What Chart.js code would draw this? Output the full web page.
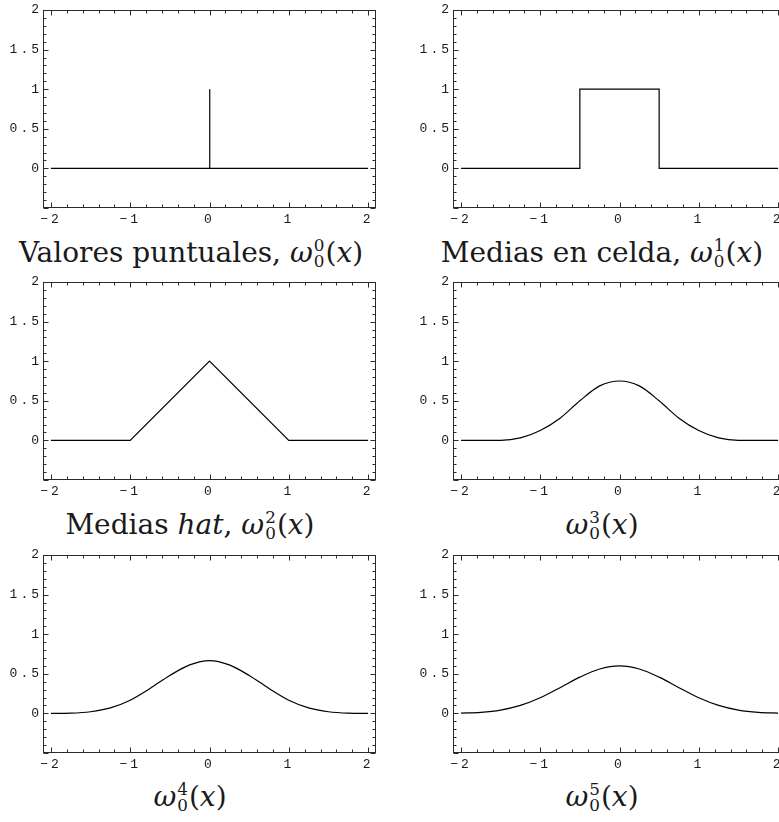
<!DOCTYPE html>
<html lang="es">
<head>
<meta charset="UTF-8" />
<title>Núcleos de reconstrucción ω0</title>
<script src="https://cdn.jsdelivr.net/npm/chart.js"></script>
<style>
  html, body { margin: 0; padding: 0; background: #fff; overflow: hidden; width: 779px; height: 822px; }
  .panel { position: absolute; }
  .ttl {
    position: absolute; transform: translateX(-50%); white-space: nowrap;
    font-family: 'DejaVu Serif', serif; font-size: 28px; line-height: 28px; color: #1a1a1a;
  }
  .ss { display: inline-block; vertical-align: -0.32em; font-size: 0.6em; line-height: 0.95em; margin: 0 1px; }
  .ss span { display: block; }
</style>
</head>
<body>
<canvas id="c0" class="panel" width="380" height="230" style="left:0px;top:0px"></canvas>
<canvas id="c1" class="panel" width="380" height="230" style="left:410px;top:0px"></canvas>
<canvas id="c2" class="panel" width="380" height="230" style="left:0px;top:272px"></canvas>
<canvas id="c3" class="panel" width="380" height="230" style="left:410px;top:272px"></canvas>
<canvas id="c4" class="panel" width="380" height="230" style="left:0px;top:545px"></canvas>
<canvas id="c5" class="panel" width="380" height="230" style="left:410px;top:545px"></canvas>

<div class="ttl" style="left:191px;top:238px">Valores puntuales, <i>ω</i><span class="ss"><span>0</span><span>0</span></span>(<i>x</i>)</div>
<div class="ttl" style="left:602px;top:238px">Medias en celda, <i>ω</i><span class="ss"><span>1</span><span>0</span></span>(<i>x</i>)</div>
<div class="ttl" style="left:190px;top:510px">Medias <i>hat</i>, <i>ω</i><span class="ss"><span>2</span><span>0</span></span>(<i>x</i>)</div>
<div class="ttl" style="left:602px;top:510px"><i>ω</i><span class="ss"><span>3</span><span>0</span></span>(<i>x</i>)</div>
<div class="ttl" style="left:190px;top:782px"><i>ω</i><span class="ss"><span>4</span><span>0</span></span>(<i>x</i>)</div>
<div class="ttl" style="left:602px;top:782px"><i>ω</i><span class="ss"><span>5</span><span>0</span></span>(<i>x</i>)</div>

<script>
// tick labels
const xTickVals = [-2, -1, 0, 1, 2];
const xTickText = ['\u22122', '\u22121', '0', '1', '2'];
const yTickVals = [0, 0.5, 1, 1.5, 2];
const yTickText = ['0', '0.5', '1', '1.5', '2'];

// omega^0: point values (spike at 0)
const spikeX = [-2, 0, 0, 0.006, 2];
const spikeY = [0, 0, 1, 0, 0];

// omega^1: cell averages (box)
const boxX = [-2, -0.5, -0.5, 0.5, 0.5, 2];
const boxY = [0, 0, 1, 1, 0, 0];

// omega^2: hat averages
const hatX = [-2, -1, 0, 1, 2];
const hatY = [0, 0, 1, 0, 0];

// smooth kernels, read every 0.25
const smoothX = [-2, -1.75, -1.5, -1.25, -1, -0.75, -0.5, -0.25, 0, 0.25, 0.5, 0.75, 1, 1.25, 1.5, 1.75, 2];
const w3Y = [0, 0, 0, 0.031, 0.125, 0.281, 0.5, 0.688, 0.75, 0.688, 0.5, 0.281, 0.125, 0.031, 0, 0, 0];
const w4Y = [0, 0.003, 0.021, 0.070, 0.167, 0.315, 0.479, 0.612, 0.667, 0.612, 0.479, 0.315, 0.167, 0.070, 0.021, 0.003, 0];
const w5Y = [0.003, 0.013, 0.042, 0.101, 0.198, 0.325, 0.458, 0.561, 0.599, 0.561, 0.458, 0.325, 0.198, 0.101, 0.042, 0.013, 0.003];

function pts(xs, ys) {
  return xs.map((x, i) => ({ x: x, y: ys[i] }));
}

// frame with inward ticks on all four sides, like the original plot
const framePlugin = {
  id: 'frame',
  beforeDraw(chart) {
    chart.ctx.letterSpacing = '3px';
  },
  afterDraw(chart) {
    const ctx = chart.ctx;
    const a = chart.chartArea;
    const x = chart.scales.x, y = chart.scales.y;
    ctx.save();
    ctx.strokeStyle = '#2a2a2a';
    ctx.lineWidth = 1;
    const L = Math.round(a.left) + 0.5, R = Math.round(a.right) - 0.5;
    const T = Math.round(a.top) + 0.5, B = Math.round(a.bottom) - 0.5;
    ctx.strokeRect(L, T, R - L, B - T);
    ctx.beginPath();
    for (let i = -10; i <= 10; i++) {
      const px = Math.round(x.getPixelForValue(i / 5)) + 0.5;
      const len = i % 5 === 0 ? 5 : 3;
      ctx.moveTo(px, B); ctx.lineTo(px, B - len);
      ctx.moveTo(px, T); ctx.lineTo(px, T + len);
    }
    for (let j = -5; j <= 20; j++) {
      const py = Math.round(y.getPixelForValue(j / 10)) + 0.5;
      const len = j % 5 === 0 ? 5 : 3;
      ctx.moveTo(L, py); ctx.lineTo(L + len, py);
      ctx.moveTo(R, py); ctx.lineTo(R - len, py);
    }
    ctx.stroke();
    ctx.restore();
  }
};

function makePanel(id, data, smooth) {
  new Chart(document.getElementById(id), {
    type: 'line',
    data: {
      datasets: [{
        data: data,
        borderColor: '#000',
        borderWidth: 1.2,
        pointRadius: 0,
        fill: false,
        tension: 0,
        cubicInterpolationMode: smooth ? 'monotone' : 'default'
      }]
    },
    options: {
      responsive: false,
      animation: false,
      layout: { padding: { top: 10, right: 4, left: 0, bottom: 0 } },
      plugins: { legend: { display: false }, tooltip: { enabled: false } },
      scales: {
        x: {
          type: 'linear', min: -2.1, max: 2.1,
          grid: { display: false, drawTicks: false },
          border: { display: false },
          afterBuildTicks: s => { s.ticks = xTickVals.map(v => ({ value: v })); },
          afterFit: s => { s.height = 22; },
          ticks: {
            padding: 4, maxRotation: 0, autoSkip: false,
            color: '#1a1a1a',
            font: { family: "'Liberation Mono', monospace", size: 13 },
            callback: v => xTickText[xTickVals.indexOf(v)]
          }
        },
        y: {
          type: 'linear', min: -0.5, max: 2,
          grid: { display: false, drawTicks: false },
          border: { display: false },
          afterBuildTicks: s => { s.ticks = yTickVals.map(v => ({ value: v })); },
          afterFit: s => { s.width = 43; },
          ticks: {
            padding: 1, autoSkip: false,
            color: '#1a1a1a',
            font: { family: "'Liberation Mono', monospace", size: 13 },
            callback: v => yTickText[yTickVals.indexOf(v)]
          }
        }
      }
    },
    plugins: [framePlugin]
  });
}

makePanel('c0', pts(spikeX, spikeY), false);
makePanel('c1', pts(boxX, boxY), false);
makePanel('c2', pts(hatX, hatY), false);
makePanel('c3', pts(smoothX, w3Y), true);
makePanel('c4', pts(smoothX, w4Y), true);
makePanel('c5', pts(smoothX, w5Y), true);
</script>
</body>
</html>
